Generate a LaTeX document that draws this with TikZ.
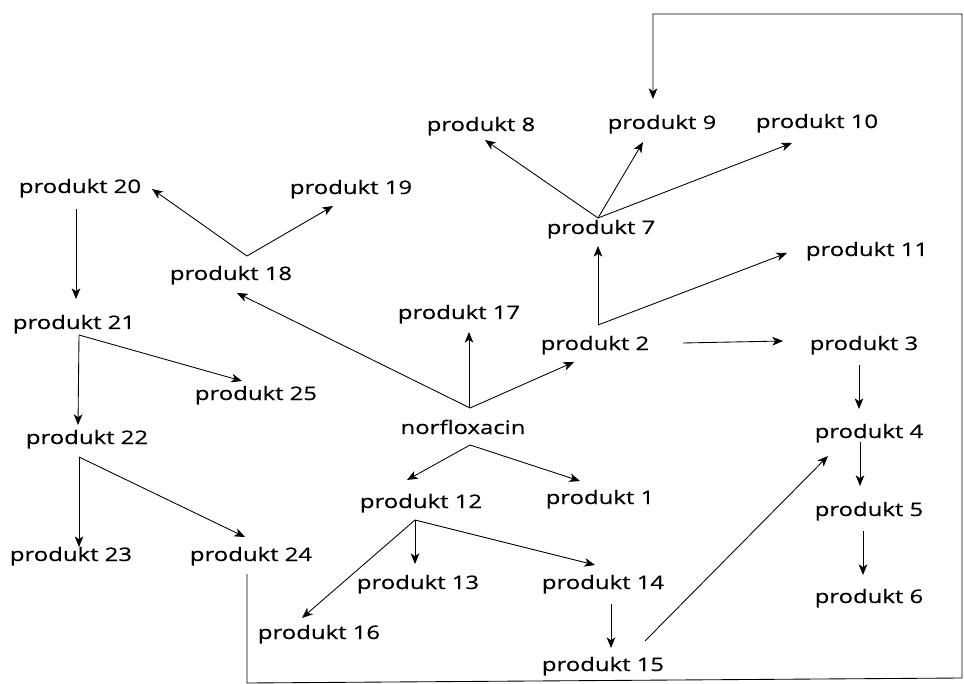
\documentclass[tikz,border=0pt]{standalone}
\usepackage{fontspec}
\setmainfont{Open Sans}[FakeStretch=1.28,FakeBold=0.4]
\usetikzlibrary{arrows.meta,calc}
\begin{document}
\begin{tikzpicture}[x=0.75pt,y=-0.75pt,
  lbl/.style={anchor=base,inner sep=0pt,font=\fontsize{14}{16}\selectfont},
  arr/.style={-{Stealth[length=8pt,width=6.5pt,inset=2.2pt]},line width=0.65pt},
  ln/.style={line width=0.65pt}]
\useasboundingbox (0,0) rectangle (964,684);
% nodes
\node[lbl] (p8)  at (481,131) {produkt 8};
\node[lbl] (p9)  at (662,129) {produkt 9};
\node[lbl] (p10) at (817,128) {produkt 10};
\node[lbl] (p20) at (80,193)  {produkt 20};
\node[lbl] (p19) at (351,194) {produkt 19};
\node[lbl] (p7)  at (601,234) {produkt 7};
\node[lbl] (p11) at (867,256) {produkt 11};
\node[lbl] (p18) at (231,280) {produkt 18};
\node[lbl] (p21) at (74,329)  {produkt 21};
\node[lbl] (p17) at (459,319) {produkt 17};
\node[lbl] (p2)  at (595,350) {produkt 2};
\node[lbl] (p3)  at (864,350) {produkt 3};
\node[lbl] (p25) at (256,400) {produkt 25};
\node[lbl] (nor) at (463,434) {norfloxacin};
\node[lbl] (p4)  at (869,438) {produkt 4};
\node[lbl] (p22) at (87,444)  {produkt 22};
\node[lbl] (p12) at (421,508) {produkt 12};
\node[lbl] (p1)  at (600,504) {produkt 1};
\node[lbl] (p5)  at (869,516) {produkt 5};
\node[lbl] (p23) at (71,561)  {produkt 23};
\node[lbl] (p24) at (251,561) {produkt 24};
\node[lbl] (p13) at (418,589) {produkt 13};
\node[lbl] (p14) at (603,589) {produkt 14};
\node[lbl] (p6)  at (869,603) {produkt 6};
\node[lbl] (p16) at (319,639) {produkt 16};
\node[lbl] (p15) at (603,671) {produkt 15};
% connectors
\draw[arr] ($(p7.base)+(-3,-16)$) -- ($(p8.base)+(4,9)$);
\draw[arr] ($(p7.base)+(-3,-16)$) -- ($(p9.base)+(-19,13)$);
\draw[arr] ($(p7.base)+(-3,-16)$) -- ($(p10.base)+(-25,15)$);
\draw[arr] ($(p2.base)+(3,-25)$) -- ($(p7.base)+(-3,12)$);
\draw[arr] ($(p2.base)+(3,-25)$) -- ($(p11.base)+(-80,-3)$);
\draw[arr] ($(p2.base)+(88,-7)$) -- ($(p3.base)+(-81,-9)$);
\draw[arr] ($(nor.base)+(7,-26)$) -- ($(p18.base)+(6,13)$);
\draw[arr] ($(nor.base)+(6,-26)$) -- ($(p17.base)+(10,13)$);
\draw[arr] ($(nor.base)+(7,-26)$) -- ($(p2.base)+(-21,12)$);
\draw[arr] ($(nor.base)+(7,11)$) -- ($(p12.base)+(-14,-28)$);
\draw[arr] ($(nor.base)+(7,11)$) -- ($(p1.base)+(-20,-23)$);
\draw[arr] ($(p12.base)+(-6,12)$) -- ($(p16.base)+(-17,-21)$);
\draw[arr] ($(p12.base)+(-6,12)$) -- ($(p13.base)+(-3,-25)$);
\draw[arr] ($(p12.base)+(-6,12)$) -- ($(p14.base)+(-8,-24)$);
\draw[arr] ($(p14.base)+(8,15)$) -- ($(p15.base)+(8,-23)$);
\draw[arr] ($(p15.base)+(42,-30)$) -- ($(p4.base)+(-41,18)$);
\draw[arr] ($(p3.base)+(-5,15)$) -- ($(p4.base)+(-10,-29)$);
\draw[arr] ($(p4.base)+(-9,4)$) -- ($(p5.base)+(-9,-30)$);
\draw[arr] ($(p5.base)+(-6,15)$) -- ($(p6.base)+(-6,-28)$);
\draw[arr] ($(p18.base)+(16,-24)$) -- ($(p20.base)+(72,-4)$);
\draw[arr] ($(p18.base)+(16,-24)$) -- ($(p19.base)+(-18,12)$);
\draw[arr] ($(p20.base)+(-4,16)$) -- ($(p21.base)+(2,-30)$);
\draw[arr] ($(p21.base)+(5,6)$) -- ($(p22.base)+(-9,-19)$);
\draw[arr] ($(p21.base)+(5,6)$) -- ($(p25.base)+(-14,-19)$);
\draw[arr] ($(p22.base)+(-8,13)$) -- ($(p23.base)+(8,-14)$);
\draw[arr] ($(p22.base)+(-8,13)$) -- ($(p24.base)+(-6,-24)$);
\draw[arr] ($(p24.base)+(-4,13)$) -- (247,683) -- (962,678) -- (962,14) -- (653,14) -- ($(p9.base)+(-9,-30)$);
\end{tikzpicture}
\end{document}
